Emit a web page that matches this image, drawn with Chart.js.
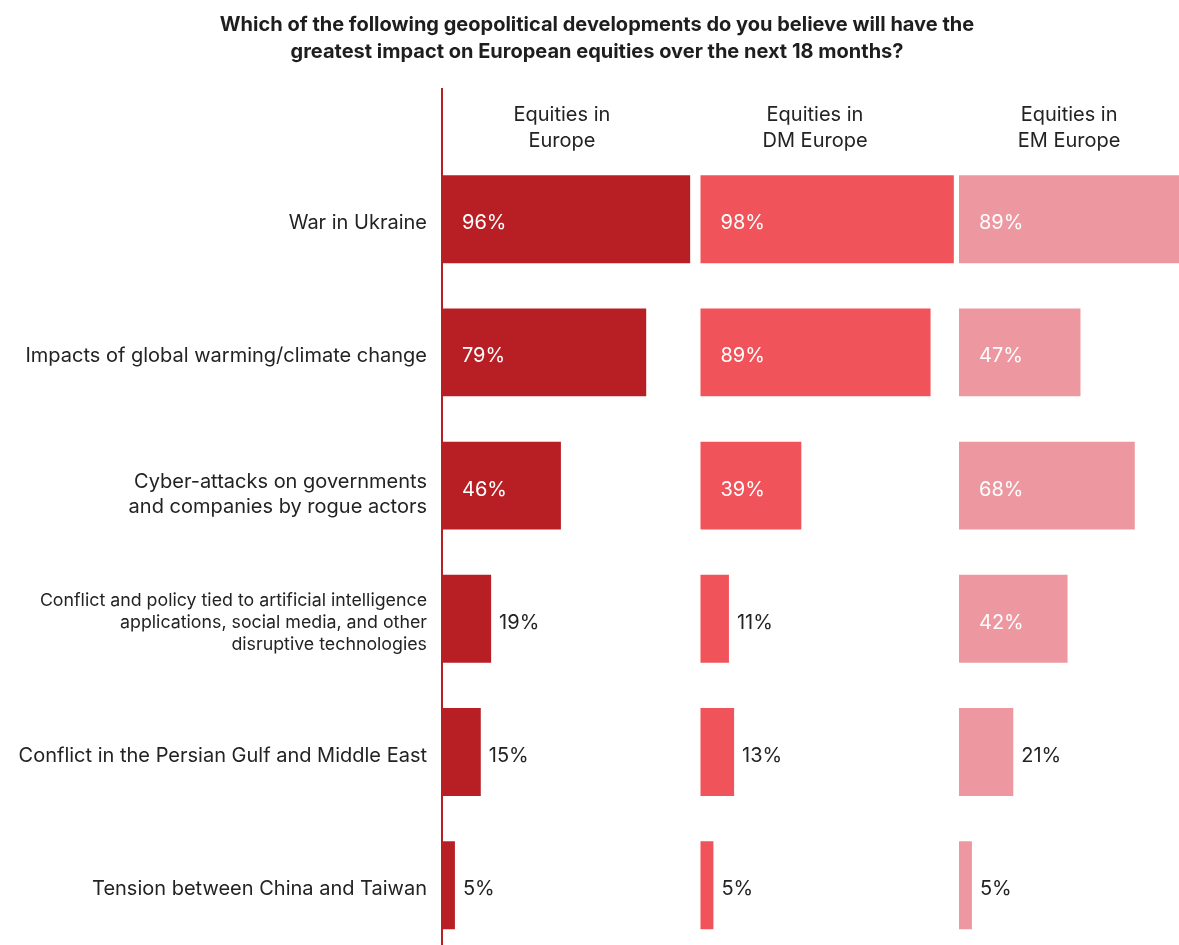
<!DOCTYPE html>
<html>
<head>
<meta charset="utf-8">
<script src="https://cdn.jsdelivr.net/npm/chart.js@4.4.1/dist/chart.umd.min.js"></script>
<style>
  html, body { margin: 0; padding: 0; background: #fff; overflow: hidden; }
  #wrap { position: relative; width: 1179px; height: 980px; }
  #title {
    position: absolute; left: 0; top: 11px; width: 1194px; text-align: center;
    font-family: Inter, sans-serif; font-weight: 700; font-size: 20px; line-height: 27px;
    color: #1e1e1e;
  }
  canvas { position: absolute; left: 0; top: 0; }
</style>
</head>
<body>
<div id="wrap">
  <canvas id="c" width="1179" height="980"></canvas>
  <div id="title">Which of the following geopolitical developments do you believe will have the<br>greatest impact on European equities over the next 18 months?</div>
</div>
<script>
// Survey categories (top to bottom)
const categories = [
  ['War in Ukraine'],
  ['Impacts of global warming/climate change'],
  ['Cyber-attacks on governments', 'and companies by rogue actors'],
  ['Conflict and policy tied to artificial intelligence', 'applications, social media, and other', 'disruptive technologies'],
  ['Conflict in the Persian Gulf and Middle East'],
  ['Tension between China and Taiwan']
];

// Column headings
const columnTitles = [
  ['Equities in', 'Europe'],
  ['Equities in', 'DM Europe'],
  ['Equities in', 'EM Europe']
];

// Share of respondents (%) per column
const europe   = [96, 79, 46, 19, 15, 5];
const dmEurope = [98, 89, 39, 11, 13, 5];
const emEurope = [89, 47, 68, 42, 21, 5];

// Layout: each column occupies 100 units of the shared x axis
const PANEL_START = [0, 100, 200];
const HEADER_CENTER = [46.4, 44.3, 42.6];
const COLORS = ['#B81F25', '#F0545A', '#ED98A0'];
const TEXT = '#232323';
const FONT = 'Inter, sans-serif';
// Category label typography: [font size, line spacing, vertical nudge]
const LABEL_STYLE = [
  [20, 25, 4], [20, 25, 4], [20, 25, 9], [17.8, 22, 4], [20, 25, 4], [20, 25, 4]
];

const series = [europe, dmEurope, emEurope];

const datasets = series.map((vals, i) => ({
  label: columnTitles[i].join(' '),
  data: vals.map(v => [PANEL_START[i], PANEL_START[i] + v]),
  values: vals,
  backgroundColor: COLORS[i],
  borderWidth: 0,
  barPercentage: 0.66,
  categoryPercentage: 1
}));

// Left-hand rule, category labels, column headings and value labels
const annotate = {
  id: 'annotate',
  afterDatasetsDraw(chart) {
    const { ctx, scales: { x, y } } = chart;
    ctx.save();
    const x0 = x.getPixelForValue(0);
    ctx.fillStyle = '#B81F25';
    ctx.fillRect(x0 - 1, 88, 2, chart.height - 88);

    ctx.fillStyle = TEXT;
    ctx.textBaseline = 'middle';

    // category labels, right-aligned against the rule
    ctx.textAlign = 'right';
    chart.data.labels.forEach((lines, k) => {
      const [size, lh, dy] = LABEL_STYLE[k];
      ctx.font = size + 'px ' + FONT;
      const cy = y.getPixelForValue(k) + dy;
      lines.forEach((t, j) => {
        ctx.fillText(t, x0 - 15, cy + (j - (lines.length - 1) / 2) * lh);
      });
    });

    ctx.font = '20px ' + FONT;
    ctx.textAlign = 'center';
    columnTitles.forEach((lines, i) => {
      const cx = x.getPixelForValue(PANEL_START[i] + HEADER_CENTER[i]);
      lines.forEach((t, j) => ctx.fillText(t, cx, 115 + j * 26));
    });

    ctx.textAlign = 'left';
    chart.data.datasets.forEach((ds, i) => {
      const meta = chart.getDatasetMeta(i);
      meta.data.forEach((bar, k) => {
        const v = ds.values[k];
        const start = x.getPixelForValue(PANEL_START[i]);
        const end = x.getPixelForValue(PANEL_START[i] + v);
        const inside = v >= 30;
        ctx.fillStyle = inside ? '#ffffff' : TEXT;
        const tx = inside ? start + 20 : end + 8;
        ctx.fillText(v + '%', tx, bar.y + 4);
      });
    });
    ctx.restore();
  }
};

new Chart(document.getElementById('c'), {
  type: 'bar',
  data: { labels: categories, datasets },
  options: {
    indexAxis: 'y',
    responsive: false,
    animation: false,
    layout: { padding: { top: 152.6, right: 0, left: 0, bottom: 28.2 } },
    plugins: { legend: { display: false }, tooltip: { enabled: false } },
    datasets: { bar: { grouped: false } },
    scales: {
      x: {
        type: 'linear', min: 0, max: (1179 - 442) / 2.585,
        display: false, grid: { display: false }
      },
      y: {
        type: 'category',
        offset: true,
        grid: { display: false, drawTicks: false },
        border: { display: false },
        afterFit(scale) { scale.width = 442; },
        ticks: { display: false }
      }
    }
  },
  plugins: [annotate]
});
</script>
</body>
</html>
